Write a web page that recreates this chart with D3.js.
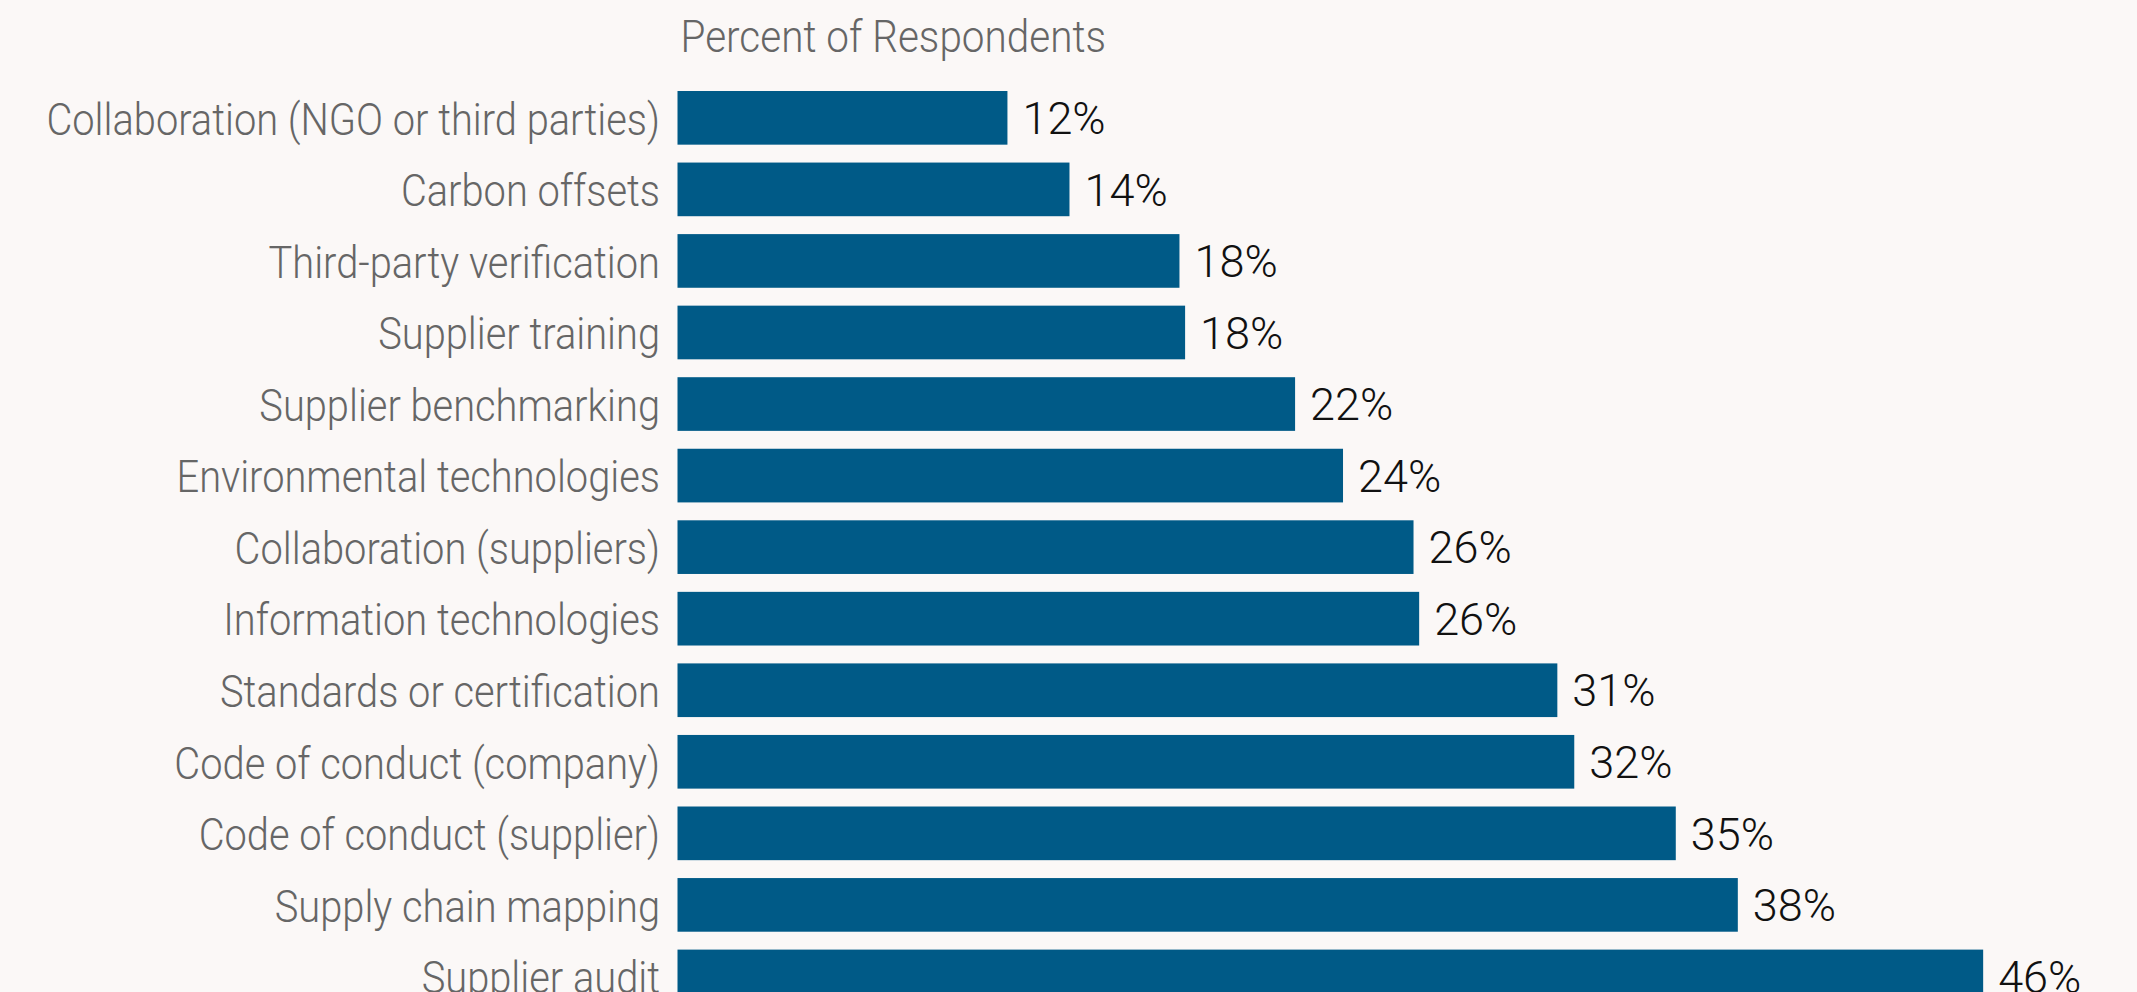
<!DOCTYPE html>
<html>
<head>
<meta charset="utf-8">
<script src="https://cdn.jsdelivr.net/npm/d3@7"></script>
<style>
  html, body { margin: 0; padding: 0; background: #fbf8f7; overflow: hidden; }
  svg { display: block; }
  .cat { font-family: Roboto, "Noto Sans", sans-serif; font-weight: 300; fill: #666666; }
  .val { font-family: Roboto, "Noto Sans", sans-serif; font-weight: 300; fill: #111111; }
</style>
</head>
<body>
<svg id="chart"></svg>
<script>
// Share of respondents using each practice (percent)
const categories = [
  "Collaboration (NGO or third parties)",
  "Carbon offsets",
  "Third-party verification",
  "Supplier training",
  "Supplier benchmarking",
  "Environmental technologies",
  "Collaboration (suppliers)",
  "Information technologies",
  "Standards or certification",
  "Code of conduct (company)",
  "Code of conduct (supplier)",
  "Supply chain mapping",
  "Supplier audit"
];
const values = [11.7, 13.9, 17.8, 18.0, 21.9, 23.6, 26.1, 26.3, 31.2, 31.8, 35.4, 37.6, 46.3];
const axisTitle = "Percent of Respondents";

const W = 2137, H = 992;
const svg = d3.select("#chart").attr("width", W).attr("height", H);

const plotLeft = 677.5;
const x = d3.scaleLinear().domain([0, 50]).range([plotLeft, plotLeft + 50 * 28.2]);

const step = 71.55;
const yTop = 82.06;
const y = d3.scaleBand()
  .domain(categories)
  .range([yTop, yTop + categories.length * step])
  .paddingInner(0.25)
  .paddingOuter(0.125);

const fontSize = 44;
const labelSqueeze = 0.905;
const titleSqueeze = 0.92;

// axis title above the bars
svg.append("text")
  .attr("class", "cat")
  .attr("transform", `translate(${plotLeft + 3},51.7) scale(${titleSqueeze},1)`)
  .attr("font-size", fontSize)
  .attr("fill", "#6e6e6e")
  .text(axisTitle);

const rows = categories.map((c, i) => ({ cat: c, v: values[i] }));

// bars
svg.append("g")
  .selectAll("rect")
  .data(rows)
  .join("rect")
  .attr("x", x(0))
  .attr("y", d => y(d.cat))
  .attr("width", d => x(d.v) - x(0))
  .attr("height", y.bandwidth())
  .attr("fill", "#005a87");

// category labels (right-aligned left of the bars)
const yAxis = d3.axisLeft(y).tickSize(0).tickPadding(0);
const gAxis = svg.append("g")
  .attr("transform", `translate(${plotLeft - 17.5},0)`)
  .call(yAxis);
gAxis.select(".domain").remove();
gAxis.selectAll(".tick text")
  .attr("class", "cat")
  .attr("font-size", fontSize)
  .attr("dy", "0.38em")
  .attr("x", 0)
  .attr("transform", `scale(${labelSqueeze},1)`);

// value labels at bar ends
const fmt = d => Math.round(d) + "%";
svg.append("g")
  .selectAll("text")
  .data(rows)
  .join("text")
  .attr("class", "val")
  .attr("font-size", 45)
  .attr("x", d => x(d.v) + 15)
  .attr("y", d => y(d.cat) + y.bandwidth() / 2)
  .attr("dy", "0.36em")
  .text(d => fmt(d.v));
</script>
</body>
</html>
